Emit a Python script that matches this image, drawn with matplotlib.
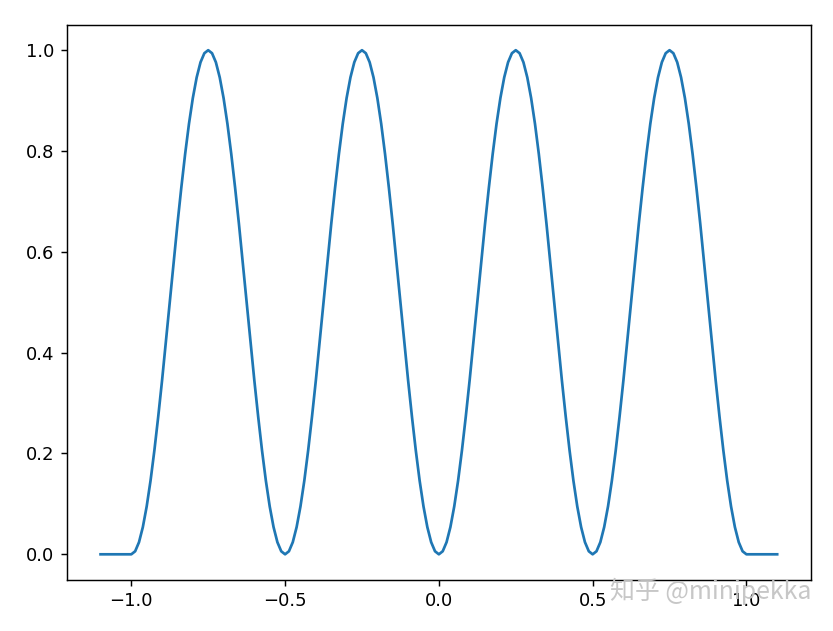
import numpy as np
import matplotlib
matplotlib.use("Agg")
import matplotlib.pyplot as plt

# Sample grid along the x axis (step 0.0125)
x_start, x_end, n_points = -1.1, 1.1, 177
x_values = np.linspace(x_start, x_end, n_points)

# Curve heights at each grid point
y_values = [
    0.000, 0.000, 0.000, 0.000, 0.000, 0.000, 0.000, 0.000,
    0.000, 0.006, 0.024, 0.054, 0.095, 0.146, 0.206, 0.273, 0.345, 0.422,
    0.500, 0.578, 0.655, 0.727, 0.794, 0.854, 0.905, 0.946, 0.976, 0.994,
    1.000, 0.994, 0.976, 0.946, 0.905, 0.854, 0.794, 0.727, 0.655, 0.578,
    0.500, 0.422, 0.345, 0.273, 0.206, 0.146, 0.095, 0.054, 0.024, 0.006,
    0.000, 0.006, 0.024, 0.054, 0.095, 0.146, 0.206, 0.273, 0.345, 0.422,
    0.500, 0.578, 0.655, 0.727, 0.794, 0.854, 0.905, 0.946, 0.976, 0.994,
    1.000, 0.994, 0.976, 0.946, 0.905, 0.854, 0.794, 0.727, 0.655, 0.578,
    0.500, 0.422, 0.345, 0.273, 0.206, 0.146, 0.095, 0.054, 0.024, 0.006,
    0.000, 0.006, 0.024, 0.054, 0.095, 0.146, 0.206, 0.273, 0.345, 0.422,
    0.500, 0.578, 0.655, 0.727, 0.794, 0.854, 0.905, 0.946, 0.976, 0.994,
    1.000, 0.994, 0.976, 0.946, 0.905, 0.854, 0.794, 0.727, 0.655, 0.578,
    0.500, 0.422, 0.345, 0.273, 0.206, 0.146, 0.095, 0.054, 0.024, 0.006,
    0.000, 0.006, 0.024, 0.054, 0.095, 0.146, 0.206, 0.273, 0.345, 0.422,
    0.500, 0.578, 0.655, 0.727, 0.794, 0.854, 0.905, 0.946, 0.976, 0.994,
    1.000, 0.994, 0.976, 0.946, 0.905, 0.854, 0.794, 0.727, 0.655, 0.578,
    0.500, 0.422, 0.345, 0.273, 0.206, 0.146, 0.095, 0.054, 0.024, 0.006,
    0.000, 0.000, 0.000, 0.000, 0.000, 0.000, 0.000, 0.000, 0.000,
]

watermark = "知乎 @minipekka"

dpi = 130
fig = plt.figure(figsize=(833 / dpi, 631 / dpi), dpi=dpi)
ax = fig.add_axes([0.0801, 0.0816, 0.8935, 0.8788])
ax.plot(x_values, y_values, color="#1f77b4", linewidth=1.5)

fig.text(0.732, 0.062, watermark, fontsize=13.8, color="#c4c4c4", alpha=0.95,
         family=["Noto Sans CJK SC", "DejaVu Sans"], ha="left", va="center")

fig.savefig("out.png", dpi=dpi)
